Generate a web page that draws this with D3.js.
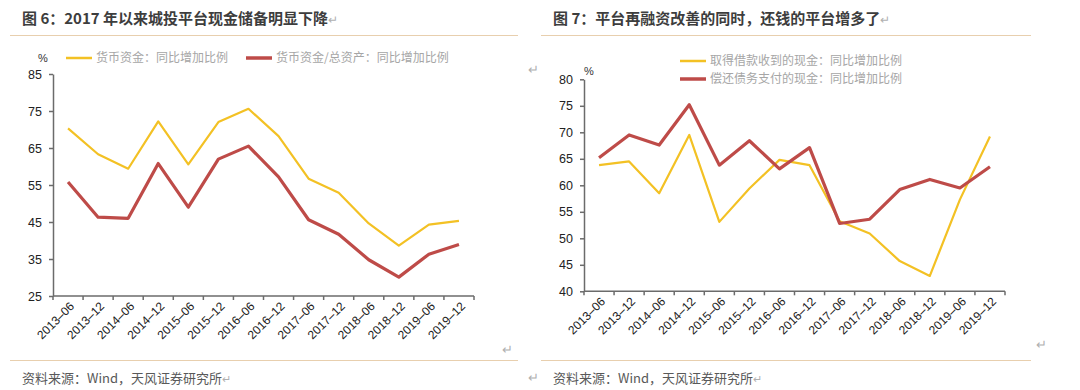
<!DOCTYPE html>
<html>
<head>
<meta charset="utf-8">
<script src="https://cdn.jsdelivr.net/npm/d3@7"></script>
<style>
  body { margin: 0; background: #fff; }
  svg { display: block; }
</style>
</head>
<body>
<svg id="chart" width="1080" height="390"></svg>
<script>
// categories shared by both panels
const periods = ["2013-06", "2013-12", "2014-06", "2014-12", "2015-06", "2015-12", "2016-06",
  "2016-12", "2017-06", "2017-12", "2018-06", "2018-12", "2019-06", "2019-12"];

// 图6 series
const cashYoY = [70.3, 63.3, 59.4, 72.2, 60.6, 72, 75.6, 68.2, 56.7, 52.9, 44.6, 38.6, 44.3, 45.3];
const cashToAssetsYoY = [55.8, 46.3, 46, 60.8, 49, 62, 65.5, 57.2, 45.6, 41.7, 34.8, 30.1, 36.3, 38.9];
const leftTicks = [25, 35, 45, 55, 65, 75, 85];

// 图7 series
const borrowYoY = [63.8, 64.5, 58.5, 69.5, 53.1, 59.4, 64.8, 63.8, 53.2, 50.9, 45.7, 42.9, 57.3, 69.2];
const repayYoY = [65.2, 69.5, 67.6, 75.2, 63.8, 68.4, 63.1, 67.1, 52.8, 53.6, 59.2, 61.1, 59.5, 63.5];
const rightTicks = [40, 45, 50, 55, 60, 65, 70, 75, 80];

const YELLOW = "#F3C124";
const RED = "#BE4B48";
const AXIS = "#6b6b6b";
const TAN = "#e8cfae";
const MARK = "#b0b0b0";

const svg = d3.select("#chart");
const labelFont = "'Liberation Sans', Arial, sans-serif";
const cjkFont = "'Noto Sans CJK SC', sans-serif";

function drawPanel(opt) {
  const g = svg.append("g");

  // title + rules + source
  const title = g.append("text")
    .attr("x", opt.titleX).attr("y", 24)
    .style("font-family", cjkFont).style("font-size", "15px").style("font-weight", "bold")
    .style("fill", "#3d3d3d");
  title.append("tspan").text(opt.title);
  title.append("tspan").style("font-weight", "normal").style("fill", MARK)
    .style("font-family", labelFont).style("font-size", "12px").text("↵");
  g.append("line")
    .attr("x1", opt.ruleX1).attr("x2", opt.ruleX2).attr("y1", 35.5).attr("y2", 35.5)
    .style("stroke", TAN).style("stroke-width", 1);
  g.append("line")
    .attr("x1", opt.ruleX1).attr("x2", opt.ruleX2).attr("y1", 360.5).attr("y2", 360.5)
    .style("stroke", TAN).style("stroke-width", 1);
  const src = g.append("text")
    .attr("x", opt.titleX).attr("y", 383)
    .style("font-family", cjkFont).style("font-size", "13px").style("fill", "#595959");
  src.append("tspan").text("资料来源：Wind，天风证券研究所");
  src.append("tspan").style("fill", MARK).style("font-family", labelFont)
    .style("font-size", "11px").text("↵");

  const x = d3.scaleBand().domain(periods).range([opt.x0, opt.x1]);
  const y = d3.scaleLinear().domain(opt.yDomain).range([opt.yBottom, opt.yTop]);

  // y axis
  const yAxis = g.append("g")
    .attr("transform", `translate(${opt.x0},0)`)
    .call(d3.axisLeft(y).tickValues(opt.yTicks).tickSize(4).tickPadding(7).tickSizeOuter(0));
  yAxis.select(".domain").style("stroke", AXIS).style("stroke-width", 1.5);
  yAxis.selectAll(".tick line").style("stroke", AXIS).style("stroke-width", 1.5);
  yAxis.selectAll(".tick text")
    .style("font-family", labelFont).style("font-size", "12.5px").style("fill", "#222");

  // x axis: boundary ticks, centred labels
  const xAxis = g.append("g").attr("transform", `translate(0,${opt.yBottom})`);
  xAxis.append("line")
    .attr("x1", opt.x0).attr("x2", opt.x1)
    .style("stroke", AXIS).style("stroke-width", 1.5);
  const bounds = periods.map(p => x(p)).concat([opt.x1]);
  xAxis.selectAll(".bt").data(bounds).enter().append("line")
    .attr("x1", d => d).attr("x2", d => d).attr("y1", 0).attr("y2", 4)
    .style("stroke", AXIS).style("stroke-width", 1.5);
  xAxis.selectAll(".xl").data(periods).enter().append("text")
    .attr("transform", d => `translate(${x(d) + x.bandwidth() / 2 + 4},${8}) rotate(-45)`)
    .attr("text-anchor", "end").attr("dy", "0.35em")
    .style("font-family", labelFont).style("font-size", "12px").style("fill", "#222")
    .text(d => d.replace("-", "–"));

  // series lines
  const line = d3.line()
    .x((d, i) => x(periods[i]) + x.bandwidth() / 2)
    .y(d => y(d));
  opt.series.forEach(s => {
    g.append("path").datum(s.values)
      .attr("d", line)
      .style("fill", "none").style("stroke", s.color).style("stroke-width", s.width)
      .style("stroke-linejoin", "round");
  });

  // unit
  g.append("text")
    .attr("x", opt.unitX).attr("y", opt.unitY)
    .style("font-family", labelFont).style("font-size", "11px").style("fill", "#333")
    .text("%");

  // legend
  opt.legend.forEach(l => {
    g.append("line")
      .attr("x1", l.x).attr("x2", l.x + 26).attr("y1", l.y).attr("y2", l.y)
      .style("stroke", l.color).style("stroke-width", l.width);
    g.append("text")
      .attr("x", l.x + 30).attr("y", l.y).attr("dy", "0.35em")
      .style("font-family", cjkFont).style("font-size", "12px").style("fill", "#a6a6a6")
      .text(l.text);
  });

  // paragraph marks
  opt.marks.forEach(m => {
    g.append("text").attr("x", m[0]).attr("y", m[1])
      .style("font-family", labelFont).style("font-size", "13px").style("fill", MARK)
      .text("↵");
  });
}

drawPanel({
  title: "图 6：2017 年以来城投平台现金储备明显下降",
  titleX: 22, ruleX1: 10, ruleX2: 518,
  x0: 53, x1: 474, yTop: 74, yBottom: 296,
  yDomain: [25, 85], yTicks: leftTicks,
  unitX: 38, unitY: 62,
  series: [
    { values: cashYoY, color: YELLOW, width: 2.2 },
    { values: cashToAssetsYoY, color: RED, width: 3.2 }
  ],
  legend: [
    { x: 66, y: 58, color: YELLOW, width: 2.5, text: "货币资金：同比增加比例" },
    { x: 246, y: 58, color: RED, width: 3.5, text: "货币资金/总资产：同比增加比例" }
  ],
  marks: [[528, 74], [502, 354], [528, 382]]
});

drawPanel({
  title: "图 7：平台再融资改善的同时，还钱的平台增多了",
  titleX: 553, ruleX1: 541, ruleX2: 1031,
  x0: 584, x1: 1005, yTop: 79.3, yBottom: 291.3,
  yDomain: [40, 80], yTicks: rightTicks,
  unitX: 584, unitY: 75,
  series: [
    { values: borrowYoY, color: YELLOW, width: 2.2 },
    { values: repayYoY, color: RED, width: 3.2 }
  ],
  legend: [
    { x: 680, y: 61, color: YELLOW, width: 2.5, text: "取得借款收到的现金：同比增加比例" },
    { x: 680, y: 79, color: RED, width: 3.5, text: "偿还债务支付的现金：同比增加比例" }
  ],
  marks: [[1036, 349]]
});
</script>
</body>
</html>
